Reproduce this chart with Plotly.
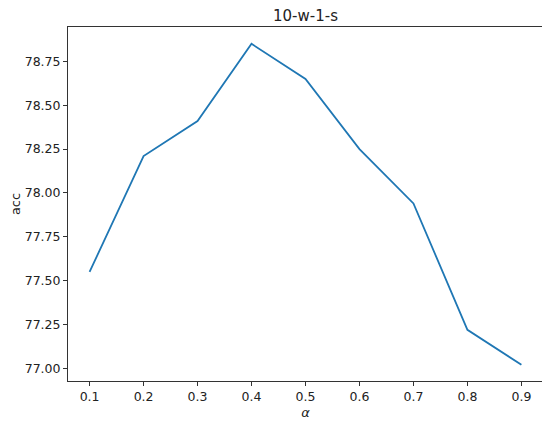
import plotly.graph_objects as go

alpha = [0.1, 0.2, 0.3, 0.4, 0.5, 0.6, 0.7, 0.8, 0.9]
acc = [77.55, 78.21, 78.41, 78.85, 78.65, 78.25, 77.94, 77.22, 77.02]
ytick_vals = [77.00, 77.25, 77.50, 77.75, 78.00, 78.25, 78.50, 78.75]
ytick_text = ["77.00", "77.25", "77.50", "77.75", "78.00", "78.25", "78.50", "78.75"]

fig = go.Figure()
fig.add_trace(go.Scatter(x=alpha, y=acc, mode="lines",
                         line=dict(color="#1f77b4", width=1.8)))

axis_common = dict(showgrid=False, zeroline=False, showline=True, mirror=True,
                   linecolor="#333333", linewidth=1, ticks="outside", ticklen=4,
                   tickwidth=1, tickcolor="#333333", automargin=False,
                   tickfont=dict(family="DejaVu Sans", size=12.5, color="#222222"))

# page body has an 8px margin, so the figure is 542x418 and offset by 8px
fig.update_layout(
    width=542, height=418,
    margin=dict(l=60, r=7, t=19, b=45),
    paper_bgcolor="white", plot_bgcolor="white",
    showlegend=False,
    title=dict(text="10-w-1-s", x=0.5, xanchor="center", xref="paper",
               y=1 - 7.5 / 418, yanchor="middle",
               font=dict(family="DejaVu Sans", size=15, color="#222222")),
    xaxis=dict(range=[0.06, 0.94], tickvals=alpha,
               ticktext=[f"{a:.1f}" for a in alpha],
               title=dict(text="<i>α</i>", standoff=4,
                          font=dict(family="DejaVu Sans", size=13, color="#222222")),
               **axis_common),
    yaxis=dict(range=[76.928, 78.946], tickvals=ytick_vals, ticktext=ytick_text,
               title=dict(text="acc", standoff=4,
                          font=dict(family="DejaVu Sans", size=13, color="#222222")),
               **axis_common),
)

fig.write_html("out.html")
